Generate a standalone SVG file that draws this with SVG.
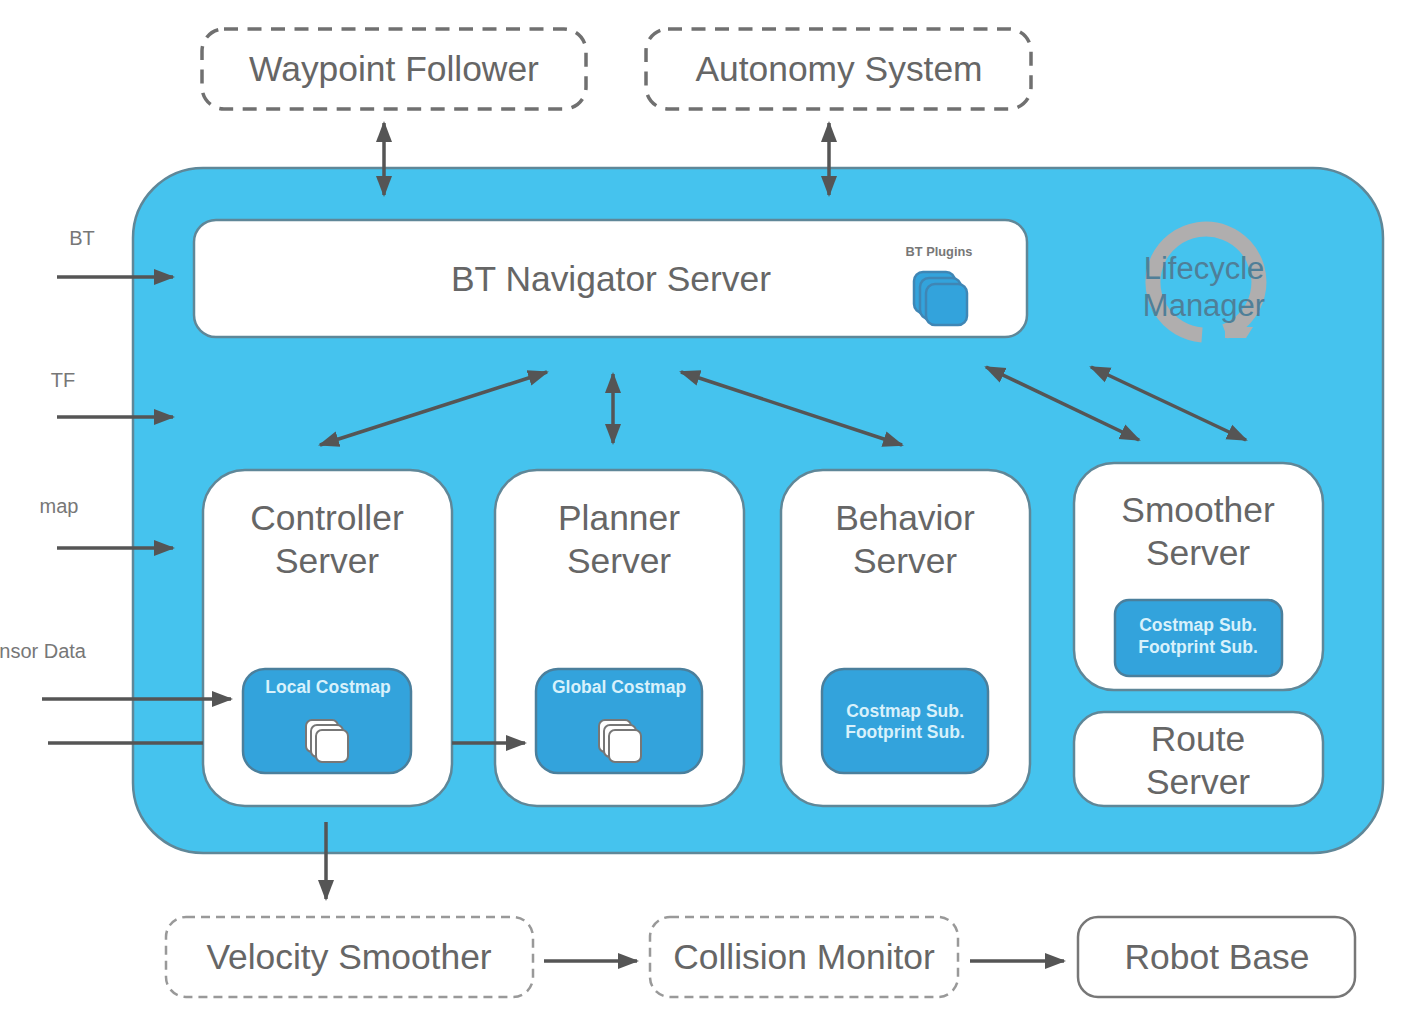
<svg xmlns="http://www.w3.org/2000/svg" width="1421" height="1033" viewBox="0 0 1421 1033">
  <style>
    text { font-family: "Liberation Sans", Arial, sans-serif; fill: #666; text-anchor: middle; }
    .big { font-size: 35.4px; }
    .side { font-size: 20px; fill: #777; }
    .sub { font-size: 17.5px; font-weight: bold; fill: #d8f1fb; }
    .panel { fill: #45c3ee; stroke: #5f8798; stroke-width: 2.5; }
    .server { fill: #fff; stroke: #5f8798; stroke-width: 2.5; }
    .inner { fill: #33a3dc; stroke: #4b7f9c; stroke-width: 2.5; }
    .dash-strong { fill: #fff; stroke: #707070; stroke-width: 3.5; stroke-dasharray: 14 9.5; }
    .dash-light { fill: #fff; stroke: #999; stroke-width: 2.5; stroke-dasharray: 9 6; }
    .solid { fill: #fff; stroke: #777; stroke-width: 2.5; }
    .plugin { fill: #33a3dc; stroke: #3f86b5; stroke-width: 2.5; }
    .sheet { fill: #fff; stroke: #777; stroke-width: 2; }
    .flow line { stroke: #555; stroke-width: 3.5; }
    .one line { marker-end: url(#head); }
    .two line { marker-start: url(#head); marker-end: url(#head); }
  </style>
  <defs>
    <marker id="head" markerUnits="userSpaceOnUse" markerWidth="24" markerHeight="20" viewBox="0 0 24 20" refX="19" refY="10" orient="auto-start-reverse">
      <path d="M0 2 L21 10 L0 18 Z" fill="#555"/>
    </marker>
  </defs>

  <rect width="1421" height="1033" fill="#fff"/>

  <g id="lifecycle-panel"><rect class="panel" x="133" y="168" width="1250" height="685" rx="70"/></g>

  <g id="waypoint-follower">
    <rect class="dash-strong" x="202" y="29" width="384" height="80" rx="22"/>
    <text class="big" x="394" y="81">Waypoint Follower</text>
  </g>
  <g id="autonomy-system">
    <rect class="dash-strong" x="646" y="29" width="385" height="80" rx="22"/>
    <text class="big" x="839" y="81">Autonomy System</text>
  </g>

  <g id="bt-navigator">
    <rect class="server" x="194" y="220" width="833" height="117" rx="22"/>
    <text class="big" x="611" y="291">BT Navigator Server</text>
    <text x="939" y="256" style="font-size:12.8px;font-weight:bold;fill:#777">BT Plugins</text>
    <rect class="plugin" x="914" y="272" width="41" height="41" rx="9"/>
    <rect class="plugin" x="920" y="278" width="41" height="41" rx="9"/>
    <rect class="plugin" x="926" y="284" width="41" height="41" rx="9"/>
  </g>

  <g id="lifecycle-manager">
    <path d="M1225 331.5 A53 53 0 1 0 1202 334.9" fill="none" stroke="#b0aeae" stroke-width="15"/>
    <path d="M1225 327 L1253 327 L1246 338 L1225 338 Z" fill="#b0aeae"/>
    <text x="1204" y="279" style="font-size:31px;fill:#4f7f98">Lifecycle</text>
    <text x="1204" y="316" style="font-size:31px;fill:#4f7f98">Manager</text>
  </g>

  <g id="controller-server">
    <rect class="server" x="203" y="470" width="249" height="336" rx="42"/>
    <text class="big" x="327" y="530">Controller</text>
    <text class="big" x="327" y="573">Server</text>
    <rect class="inner" x="243" y="669" width="168" height="104" rx="22"/>
    <text class="sub" x="328" y="693">Local Costmap</text>
    <rect class="sheet" x="306" y="720" width="32" height="32" rx="6"/>
    <rect class="sheet" x="311" y="725" width="32" height="32" rx="6"/>
    <rect class="sheet" x="316" y="730" width="32" height="32" rx="6"/>
  </g>
  <g id="planner-server">
    <rect class="server" x="495" y="470" width="249" height="336" rx="42"/>
    <text class="big" x="619" y="530">Planner</text>
    <text class="big" x="619" y="573">Server</text>
    <rect class="inner" x="536" y="669" width="166" height="104" rx="22"/>
    <text class="sub" x="619" y="693">Global Costmap</text>
    <rect class="sheet" x="599" y="720" width="32" height="32" rx="6"/>
    <rect class="sheet" x="604" y="725" width="32" height="32" rx="6"/>
    <rect class="sheet" x="609" y="730" width="32" height="32" rx="6"/>
  </g>
  <g id="behavior-server">
    <rect class="server" x="781" y="470" width="249" height="336" rx="42"/>
    <text class="big" x="905" y="530">Behavior</text>
    <text class="big" x="905" y="573">Server</text>
    <rect class="inner" x="822" y="669" width="166" height="104" rx="22"/>
    <text class="sub" x="905" y="717">Costmap Sub.</text>
    <text class="sub" x="905" y="738">Footprint Sub.</text>
  </g>
  <g id="smoother-server">
    <rect class="server" x="1074" y="463" width="249" height="227" rx="40"/>
    <text class="big" x="1198" y="522">Smoother</text>
    <text class="big" x="1198" y="565">Server</text>
    <rect class="inner" x="1115" y="600" width="167" height="76" rx="14"/>
    <text class="sub" x="1198" y="631">Costmap Sub.</text>
    <text class="sub" x="1198" y="653">Footprint Sub.</text>
  </g>
  <g id="route-server">
    <rect class="server" x="1074" y="712" width="249" height="94" rx="30"/>
    <text class="big" x="1198" y="751">Route</text>
    <text class="big" x="1198" y="794">Server</text>
  </g>

  <g id="velocity-smoother">
    <rect class="dash-light" x="166" y="917" width="367" height="80" rx="20"/>
    <text class="big" x="349" y="969">Velocity Smoother</text>
  </g>
  <g id="collision-monitor">
    <rect class="dash-light" x="650" y="917" width="308" height="80" rx="20"/>
    <text class="big" x="804" y="969">Collision Monitor</text>
  </g>
  <g id="robot-base">
    <rect class="solid" x="1078" y="917" width="277" height="80" rx="20"/>
    <text class="big" x="1217" y="969">Robot Base</text>
  </g>

  <g id="inputs">
    <text class="side" x="82" y="245">BT</text>
    <text class="side" x="63" y="387">TF</text>
    <text class="side" x="59" y="513">map</text>
    <text class="side" x="86" y="658" style="text-anchor:end">nsor Data</text>
  </g>

  <g id="connectors" class="flow">
    <g class="one">
      <line x1="57" y1="277" x2="173" y2="277"/>
      <line x1="57" y1="417" x2="173" y2="417"/>
      <line x1="57" y1="548" x2="173" y2="548"/>
      <line x1="42" y1="699" x2="231" y2="699"/>
      <line x1="452" y1="743" x2="525" y2="743"/>
      <line x1="326" y1="822" x2="326" y2="899"/>
      <line x1="544" y1="961" x2="637" y2="961"/>
      <line x1="970" y1="961" x2="1064" y2="961"/>
    </g>
    <line x1="48" y1="743" x2="203" y2="743"/>
    <g class="two">
      <line x1="384" y1="123" x2="384" y2="195"/>
      <line x1="829" y1="123" x2="829" y2="195"/>
      <line x1="320" y1="445" x2="547" y2="372"/>
      <line x1="613" y1="374" x2="613" y2="443"/>
      <line x1="681" y1="372" x2="902" y2="445"/>
      <line x1="986" y1="367" x2="1139" y2="440"/>
      <line x1="1091" y1="367" x2="1246" y2="440"/>
    </g>
  </g>
</svg>
